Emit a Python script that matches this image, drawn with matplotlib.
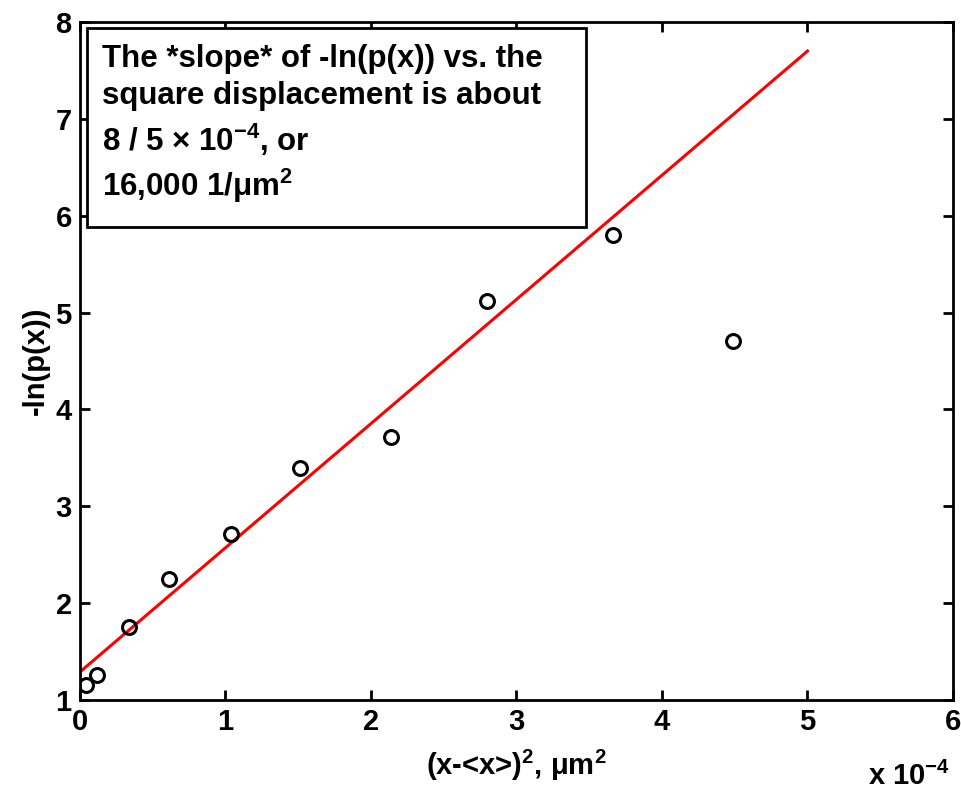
import matplotlib
matplotlib.use("Agg")
import matplotlib.pyplot as plt
from matplotlib.patches import Rectangle

plt.rcParams['font.family'] = ['Liberation Sans', 'DejaVu Sans']
plt.rcParams['font.weight'] = 'bold'
plt.rcParams['axes.labelweight'] = 'bold'
plt.rcParams['mathtext.fontset'] = 'custom'
plt.rcParams['mathtext.rm'] = 'Liberation Sans:bold'
plt.rcParams['mathtext.bf'] = 'Liberation Sans:bold'
plt.rcParams['mathtext.default'] = 'bf'

# data (x in units of 1e-4 um^2)
sq_disp = [0.04, 0.12, 0.34, 0.61, 1.04, 1.51, 2.14, 2.80, 3.66, 4.49]
neg_ln_p = [1.15, 1.26, 1.75, 2.25, 2.71, 3.40, 3.72, 5.12, 5.80, 4.71]

# fitted line end points
fit_x = [0.0, 5.0]
fit_y = [1.29, 7.70]

xticks = [0, 1, 2, 3, 4, 5, 6]
yticks = [1, 2, 3, 4, 5, 6, 7, 8]

box_lines = ["The *slope* of -ln(p(x)) vs. the",
             "square displacement is about",
             "8 / 5 \u00d7 10$^{-4}$, or",
             "16,000 1/\u03bcm$^2$"]

W, H = 962, 794
fig = plt.figure(figsize=(W / 100, H / 100), dpi=100)
ax = fig.add_axes([80 / W, 1 - 700 / H, 873 / W, 678 / H])

ax.plot(fit_x, fit_y, color='red', lw=2.2, zorder=2)
ax.plot(sq_disp, neg_ln_p, 'o', ms=10, mfc='none', mec='black', mew=2.2, zorder=3)

ax.set_xlim(0, 6)
ax.set_ylim(1, 8)
ax.set_xticks(xticks)
ax.set_yticks(yticks)
ax.tick_params(labelsize=21, direction='in', length=7, width=2, pad=6,
               top=True, right=True)
for s in ax.spines.values():
    s.set_linewidth(2)

ax.set_xlabel('(x-<x>)$^2$, \u03bcm$^2$', fontsize=21, labelpad=8)
ax.set_ylabel('-ln(p(x))', fontsize=21, labelpad=4)
fig.text(950 / W, 1 - 785 / H, 'x 10$^{-4}$', fontsize=21, ha='right', va='baseline')

# annotation box
fig.add_artist(Rectangle((87 / W, 1 - 227 / H), 499 / W, 199 / H,
                         transform=fig.transFigure, fc='white', ec='black', lw=2,
                         zorder=5))
for line, base in zip(box_lines, [67, 104, 151, 196]):
    fig.text(102 / W, 1 - base / H, line, fontsize=22.5, ha='left', va='baseline',
             zorder=6)

fig.savefig('out.png', dpi=100)
